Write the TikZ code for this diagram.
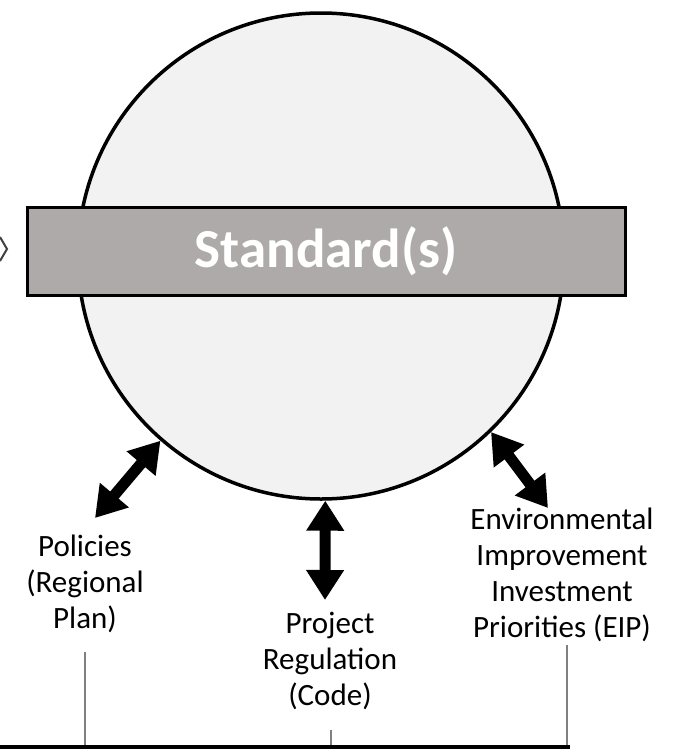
\documentclass[tikz,border=0pt]{standalone}
\usepackage{fontspec}
\setmainfont{Carlito}
\usepackage{tikz}
\usepackage{xcolor}
\usetikzlibrary{arrows.meta}

\definecolor{hubfill}{HTML}{F2F2F2}
\definecolor{barfill}{HTML}{AEAAA9}
\definecolor{stemgray}{HTML}{808080}

\begin{document}
\begin{tikzpicture}[x=1pt, y=-1pt,
            declare function={
                W=673;
                H=750;
                R=243;
                base=747;
            },
            textblock/.style={align=center, font=\fontsize{31}{36}\selectfont},
            link/.style={line width=11pt, {Triangle[width=36pt,length=30pt]}-{Triangle[width=36pt,length=30pt]}},
            stem/.style={stemgray, line width=2pt}
        ]
            \useasboundingbox (0,0) rectangle (W,H);

            \node[circle, draw, line width=3.5pt, fill=hubfill, minimum size=2*R, inner sep=0pt] (hub) at (321,256) {};
            \node[draw, line width=3pt, fill=barfill, minimum width=598pt, minimum height=88pt, inner sep=0pt,
                text=white, font=\bfseries\fontsize{55}{60}\selectfont] (standard) at (326,251) {Standard(s)};

            \draw[darkgray, line width=2pt] (0,237) -- (7,249) -- (0,261);

            \node[textblock] (policies) at (85,584) {Policies\\(Regional\\Plan)};
            \node[textblock] (regulation) at (330,661) {Project\\Regulation\\(Code)};
            \node[textblock] (eip) at (562,575) {Environmental\\Improvement\\Investment\\Priorities (EIP)};

            \coordinate (pol-end) at (95,518);
            \coordinate (reg-end) at (325,600);
            \coordinate (eip-end) at (548,508);

            \draw[link] (hub.-131) -- (pol-end);
            \draw[link] (hub.-89) -- (reg-end);
            \draw[link] (hub.-46) -- (eip-end);

            \coordinate (base-l) at (0,base);
            \coordinate (base-r) at (570,base);
            \draw[stem] (85,652) -- (85,base);
            \draw[stem] (331,730) -- (331,base);
            \draw[stem] (567,645) -- (567,base);
            \draw[line width=3.5pt] (base-l) -- (base-r);
        \end{tikzpicture}
\end{document}
